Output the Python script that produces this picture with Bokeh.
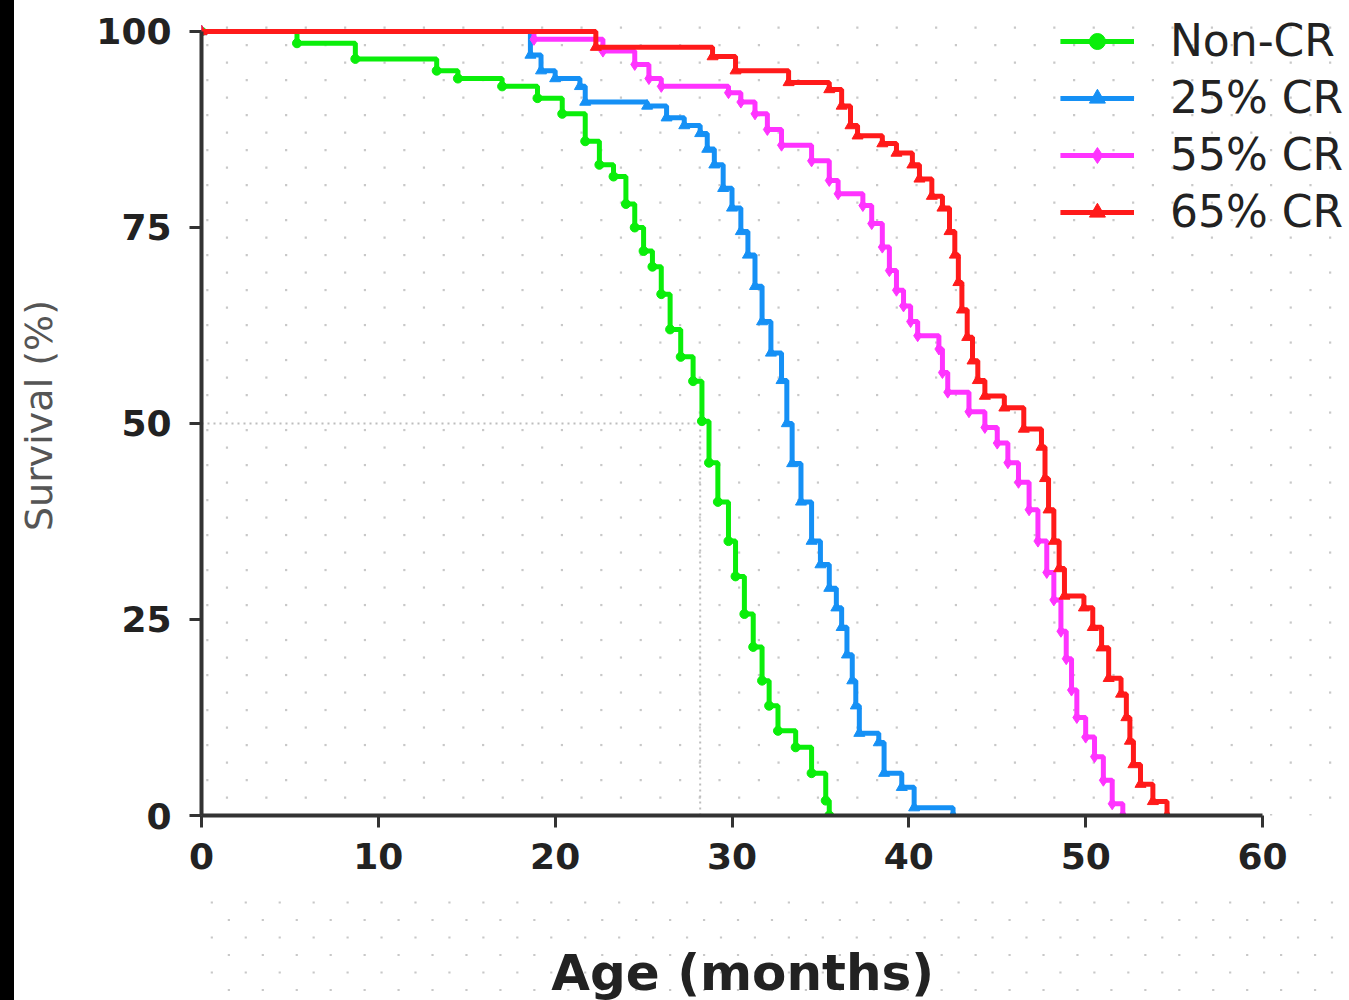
import numpy as np
from bokeh.plotting import figure
from bokeh.layouts import row, column
from bokeh.models import Range1d, Legend, LegendItem, FixedTicker, Spacer
from bokeh.core.properties import value
from bokeh.embed import file_html
from bokeh.resources import INLINE

# ---------------- data ----------------
x_ticks = [0, 10, 20, 30, 40, 50, 60]
y_ticks = [0, 25, 50, 75, 100]

noncr_t = [0, 5.4, 8.7, 13.3, 14.5, 17, 19, 20.4, 21.7, 22.5, 23.3, 24, 24.5, 25, 25.5, 26,
           26.5, 27.1, 27.8, 28.3, 28.7, 29.2, 29.8, 30.2, 30.7, 31.2, 31.7, 32.1, 32.6, 33.6,
           34.5, 35.3, 35.5]
noncr_s = [100, 98.5, 96.5, 95, 94, 93, 91.5, 89.5, 86, 83, 81.5, 78, 75, 72, 70, 66.5,
           62, 58.5, 55.4, 50.3, 45, 40, 35, 30.5, 25.7, 21.5, 17.2, 14, 10.8, 8.7,
           5.4, 1.9, 0]

cr25_t = [0, 18.6, 19.2, 20, 21.4, 21.7, 25.2, 26.3, 27.3, 28.2, 28.6, 29, 29.5, 30, 30.5,
          30.9, 31.3, 31.7, 32.2, 32.8, 33.1, 33.4, 33.9, 34.5, 35.0, 35.5, 35.9, 36.2, 36.5,
          36.8, 37.0, 37.2, 38.3, 38.6, 39.6, 40.3, 42.5]
cr25_s = [100, 97, 95, 94, 93, 91, 90.5, 89, 88, 87, 85, 83, 80, 77.5, 74.5,
          71.5, 67.5, 63, 59, 55.5, 50, 44.9, 40, 35, 32, 29, 26.5, 24, 20.5,
          17.2, 14, 10.5, 9.3, 5.4, 3.6, 1.0, 0]

cr55_t = [0, 18.8, 22.7, 24.5, 25.3, 26, 29.8, 30.5, 31.3, 32, 32.8, 34.5, 35.5, 36, 37.4,
          37.9, 38.5, 38.9, 39.3, 39.7, 40.1, 40.5, 41.7, 41.9, 42.2, 43.4, 44.3, 45.0, 45.6,
          46.2, 46.8, 47.3, 47.8, 48.2, 48.6, 48.9, 49.2, 49.5, 50.0, 50.5, 51.0, 51.5, 52.1]
cr55_s = [100, 99, 97.5, 95.8, 94, 93, 92.2, 91, 89.5, 87.5, 85.5, 83.5, 81, 79.3, 77.8,
          75.5, 72.5, 69.5, 67, 65, 63, 61.2, 59.5, 56.5, 54, 51.5, 49.5, 47.5, 45,
          42.5, 39, 35, 31, 27.5, 23.5, 20, 16, 12.5, 10, 7.5, 4.5, 1.5, 0]

cr65_t = [0, 22.3, 28.9, 30.2, 33.2, 35.5, 36.2, 36.7, 37.1, 38.5, 39.3, 40.2, 40.6, 41.3,
          41.9, 42.3, 42.6, 42.8, 43.0, 43.3, 43.6, 43.9, 44.3, 45.4, 46.5, 47.5, 47.7, 47.9,
          48.2, 48.5, 48.8, 49.9, 50.4, 50.9, 51.3, 52.0, 52.3, 52.5, 52.7, 53.1, 53.8, 54.6]
cr65_s = [100, 98, 96.8, 95, 93.5, 92.6, 90.5, 88, 86.7, 85.7, 84.5, 83, 81.2, 79,
          77.5, 74.5, 71.5, 68, 64.5, 61, 58, 55.5, 53.5, 52, 49.3, 47, 43, 39,
          35, 31.5, 28, 26.5, 24, 21.4, 17.5, 15.5, 12.5, 9.5, 6.5, 4, 1.8, 0]

median_noncr = 28.2
labels = ["Non-CR", "25% CR", "55% CR", "65% CR"]
x_title = "Age (months)"
y_title = "Survival (%)"

# ---------------- geometry ----------------
PX_X = 17.73          # px per month
PX_Y = 7.84           # px per % survival
LEFT = 184            # left border of the main figure (inside the 14px strip)
W = 1329
X_END = (W - LEFT) / PX_X
Y_END = 102.04
H_MAIN, H_TITLE = 900, 100
TITLE_X = 30 - 86 / PX_X   # horizontal placement of the x title in the title strip
dx, dy = 2.228, 2.232   # background dot lattice spacing (data units)


def dot_lattice(x_lo, x_hi, r_lo, r_hi):
    xs_all, ys_all = [], []
    for r in range(r_lo, r_hi):
        yy = 100.5 - r * dy
        x0 = 1.44 if r % 2 == 0 else 0.33
        k0 = int(np.floor((x_lo - x0) / dx)) - 1
        xs = x0 + dx * np.arange(k0, k0 + int((x_hi - x_lo) / dx) + 4)
        xs_all.extend(xs.tolist())
        ys_all.extend([yy] * len(xs))
    return xs_all, ys_all


# ---------------- main figure ----------------
p = figure(width=W, height=H_MAIN, x_range=Range1d(0, X_END), y_range=Range1d(0, Y_END),
           output_backend="svg", toolbar_location=None,
           min_border_left=LEFT, min_border_right=0, min_border_top=15,
           min_border_bottom=H_MAIN - 15 - 800)
p.outline_line_color = None
p.grid.visible = False
p.background_fill_color = "white"
p.border_fill_color = "white"

bx, by = dot_lattice(0, X_END, -2, 48)
p.scatter(bx, by, marker="square", size=2.2, fill_color="#c8c8c8",
          line_color=None, level="underlay")

# median reference lines
p.segment(x0=[0, median_noncr], y0=[50, 0], x1=[median_noncr, median_noncr], y1=[50, 50],
          line_color="#bdbdbd", line_width=2, line_dash="2 4")

series = [
    (labels[0], noncr_t, noncr_s, "#0AEE0A", "circle", 9),
    (labels[1], cr25_t, cr25_s, "#1590F5", "triangle", 11),
    (labels[2], cr55_t, cr55_s, "#FF33FF", "diamond", 12),
    (labels[3], cr65_t, cr65_s, "#FF1A1A", "triangle", 11),
]

items = []
for lab, t, s, col, mk, sz in series:
    ln = p.step(t, s, mode="after", line_color=col, line_width=5)
    sc = p.scatter(t, s, marker=mk, size=sz, fill_color=col, line_color=col)
    items.append(LegendItem(label=lab, renderers=[ln, sc]))

legend = Legend(items=items, location="top_right", margin=0, padding=1, spacing=6,
                label_text_font="DejaVu Sans", label_text_font_size="44px",
                label_text_color="#222222", glyph_width=74, glyph_height=40,
                label_height=40, label_standoff=36,
                background_fill_alpha=0, border_line_color=None)
p.add_layout(legend)

for ax in (p.xaxis[0], p.yaxis[0]):
    ax.axis_line_color = "#333333"
    ax.axis_line_width = 4
    ax.major_tick_line_color = "#333333"
    ax.major_tick_line_width = 3
    ax.major_tick_out = 12
    ax.major_tick_in = 0
    ax.minor_tick_line_color = None
    ax.major_label_text_font = "DejaVu Sans"
    ax.major_label_text_font_style = "bold"
    ax.major_label_text_font_size = "36px"
    ax.major_label_text_color = "#222222"

p.xaxis.major_label_standoff = 15
p.yaxis.major_label_standoff = 18
p.xaxis.ticker = FixedTicker(ticks=x_ticks)
p.yaxis.ticker = FixedTicker(ticks=y_ticks)
p.xaxis.bounds = (0, 60)
p.yaxis.bounds = (0, 100)

p.yaxis.axis_label = y_title
p.yaxis.axis_label_text_font = "DejaVu Sans"
p.yaxis.axis_label_text_font_style = "normal"
p.yaxis.axis_label_text_font_size = "38px"
p.yaxis.axis_label_text_color = "#555555"
p.yaxis.axis_label_standoff = 32

# ---------------- x-axis title strip (same x scale) ----------------
y_top = (815 - H_MAIN) / PX_Y
y_bot = (815 - H_MAIN - H_TITLE) / PX_Y
pt = figure(width=W, height=H_TITLE, x_range=Range1d(-LEFT / PX_X, X_END),
            y_range=Range1d(y_bot, y_top), output_backend="svg", toolbar_location=None,
            x_axis_type=None, y_axis_type=None,
            min_border_left=0, min_border_right=0, min_border_top=0, min_border_bottom=0)
pt.outline_line_color = None
pt.grid.visible = False
pt.background_fill_color = "white"
pt.border_fill_color = "white"
tx, ty = dot_lattice(-LEFT / PX_X, X_END, 47, 58)
pt.scatter(tx, ty, marker="square", size=2.2, fill_color="#c8c8c8",
           line_color=None, level="underlay")
pt.text(x=[TITLE_X], y=[(815 - 972) / PX_Y], text=[x_title], text_align=value("center"),
        text_baseline=value("middle"), text_font=value("DejaVu Sans"),
        text_font_style=value("bold"), text_font_size=value("50px"),
        text_color="#222222")

strip = Spacer(width=14, height=H_MAIN + H_TITLE, styles={"background-color": "black"})
layout = row(strip, column(p, pt, spacing=0), spacing=0)

open("out.html", "w").write(file_html(layout, INLINE))
